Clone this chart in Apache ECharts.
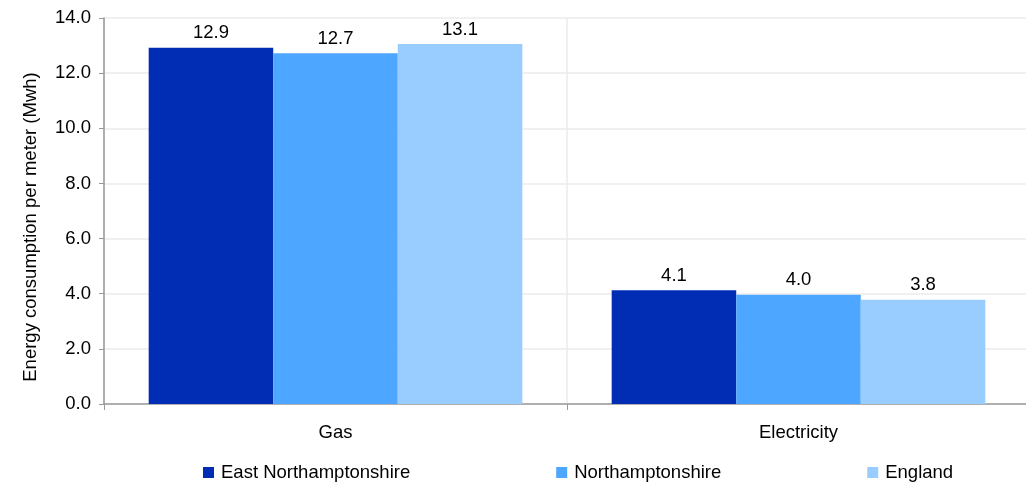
<!DOCTYPE html>
<html>
<head>
<meta charset="utf-8">
<script src="https://cdn.jsdelivr.net/npm/echarts@6/dist/echarts.min.js"></script>
<style>html,body{margin:0;padding:0;background:#fff}#c{width:1026px;height:483px}</style>
</head>
<body>
<div id="c"></div>
<script>
const categories = ['Gas', 'Electricity'];
const seriesNames = ['East Northamptonshire', 'Northamptonshire', 'England'];
const eastNorthants = [12.92, 4.13];
const northants = [12.72, 3.96];
const england = [13.06, 3.78];
const yTicks = { min: 0, max: 14, interval: 2 };
const colors = ['#002DB3', '#4DA6FF', '#99CCFF'];

const font = 'Liberation Sans, Arial, sans-serif';
const fs = 18.5;
const chart = echarts.init(document.getElementById('c'), null, { renderer: 'canvas' });
const dataSets = [eastNorthants, northants, england];
chart.setOption({
  animation: false,
  textStyle: { fontFamily: font },
  grid: { left: 104, width: 926, top: 18, bottom: 79, containLabel: false, outerBoundsMode: 'none' },
  legend: {
    left: 203, top: 463, padding: 0,
    itemWidth: 11, itemHeight: 11, itemGap: 146,
    icon: 'rect',
    textStyle: { fontSize: fs, color: '#000', fontFamily: font, padding: [0, 0, 0, 2] },
    data: seriesNames
  },
  xAxis: {
    type: 'category', data: categories,
    axisLine: { lineStyle: { color: '#999', width: 1.5 } },
    axisTick: { show: true, length: 6, lineStyle: { color: '#999' } },
    axisLabel: { fontSize: fs, color: '#000', margin: 19, fontFamily: font },
    splitLine: { show: true, lineStyle: { color: '#ebebeb', width: 1.5 } }
  },
  yAxis: {
    type: 'value', min: yTicks.min, max: yTicks.max, interval: yTicks.interval,
    name: 'Energy consumption per meter (Mwh)',
    nameLocation: 'middle', nameGap: 64, nameRotate: 90,
    nameTextStyle: { fontSize: fs, color: '#000', fontFamily: font, padding: [0, 32, 0, 0] },
    axisLine: { show: true, lineStyle: { color: '#999', width: 1.5 } },
    axisTick: { show: true, length: 5, lineStyle: { color: '#999' } },
    axisLabel: { fontSize: fs, color: '#000', margin: 13, fontFamily: font, formatter: v => v.toFixed(1) },
    splitLine: { show: true, lineStyle: { color: '#ebebeb', width: 1.5 } }
  },
  series: seriesNames.map((n, i) => ({
    name: n, type: 'bar', data: dataSets[i],
    barGap: '0%', barCategoryGap: '19.3%',
    itemStyle: { color: colors[i] },
    label: { show: true, position: 'top', distance: 5, fontSize: fs, color: '#000', fontFamily: font,
      formatter: p => p.value.toFixed(1) }
  }))
});
</script>
</body>
</html>
